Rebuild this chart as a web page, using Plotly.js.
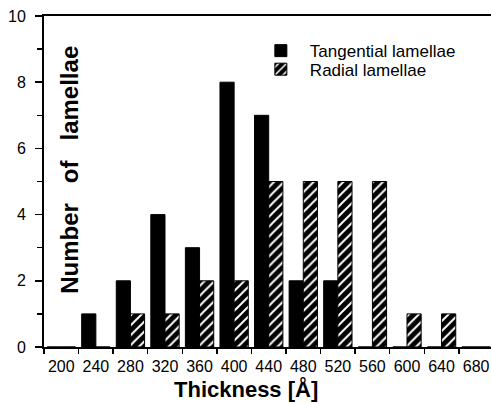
<!DOCTYPE html>
<html>
<head>
<meta charset="utf-8">
<script src="https://cdn.plot.ly/plotly-3.0.1.min.js"></script>
<style>html,body{margin:0;padding:0;background:#fff;}#chart{width:491px;height:404px;}</style>
</head>
<body>
<div id="chart"></div>
<script>
// Bin labels (thickness, Å) — bars sit in each 40 Å bin
var bins = ['200','240','280','320','360','400','440','480','520','560','600','640','680'];
var tangential = [0, 1, 2, 4, 3, 8, 7, 2, 2, 0, 0, 0, 0];
var radial     = [0, 0, 1, 1, 2, 2, 5, 5, 5, 5, 1, 1, 0];
var seriesNames = ['Tangential lamellae', 'Radial lamellae'];
var yTicks = [0, 2, 4, 6, 8, 10];

var FONT = 'Liberation Sans, Arial, Helvetica, sans-serif';
var NB = '\u00A0\u00A0\u00A0';

var traces = [
  {
    type: 'bar', x: bins, y: tangential, name: seriesNames[0],
    marker: {color: '#000', line: {color: '#000', width: 1}},
    legend: 'legend'
  },
  {
    type: 'bar', x: bins, y: radial, name: seriesNames[1],
    marker: {color: '#000', line: {color: '#000', width: 1},
      pattern: {shape: '/', fgcolor: '#fff', bgcolor: '#000', size: 7, solidity: 0.28}},
    legend: 'legend2'
  }
];

var legendBase = {xanchor: 'left', yanchor: 'middle', itemwidth: 48,
  font: {family: FONT, size: 17, color: '#000'}, bgcolor: 'rgba(0,0,0,0)', borderwidth: 0};

var layout = {
  width: 491, height: 404,
  margin: {l: 44, r: 0, t: 16, b: 57},
  paper_bgcolor: '#fff', plot_bgcolor: '#fff',
  font: {family: FONT, color: '#000', size: 16},
  barmode: 'group', bargap: 0.18, bargroupgap: 0,
  showlegend: true,
  legend: Object.assign({x: 0.465, y: 0.894}, legendBase),
  legend2: Object.assign({x: 0.465, y: 0.838}, legendBase),
  xaxis: {
    type: 'category', categoryorder: 'array', categoryarray: bins,
    range: [-0.5, 12.43],
    tickson: 'boundaries', ticks: 'outside', ticklen: 5, tickwidth: 1.5, tickcolor: '#000',
    tickangle: 0,
    showline: true, linewidth: 2, linecolor: '#000', mirror: true,
    showgrid: false, zeroline: false,
    tickfont: {family: FONT, size: 16, color: '#000'},
    ticklabelstandoff: 4,
    fixedrange: true
  },
  yaxis: {
    range: [0, 10], tickvals: yTicks,
    ticks: 'outside', ticklen: 7, tickwidth: 1.5, tickcolor: '#000',
    minor: {dtick: 1, ticks: 'outside', ticklen: 5, tickwidth: 1.5, tickcolor: '#000'},
    showline: true, linewidth: 2, linecolor: '#000',
    showgrid: false, zeroline: false,
    tickfont: {family: FONT, size: 16, color: '#000'},
    ticklabelstandoff: 6,
    fixedrange: true
  },
  annotations: [
    {text: '<b>Number' + NB + 'of' + NB + 'lamellae</b>', textangle: -90,
      xref: 'paper', yref: 'paper', x: 0.058, y: 0.535, xanchor: 'center', yanchor: 'middle',
      showarrow: false, font: {family: FONT, size: 24, color: '#000'}},
    {text: '<b>Thickness [Å]</b>',
      xref: 'paper', yref: 'paper', x: 0.452, y: -0.127, xanchor: 'center', yanchor: 'middle',
      showarrow: false, font: {family: FONT, size: 22, color: '#000'}}
  ]
};

Plotly.newPlot('chart', traces, layout, {displayModeBar: false, staticPlot: true});
</script>
</body>
</html>
